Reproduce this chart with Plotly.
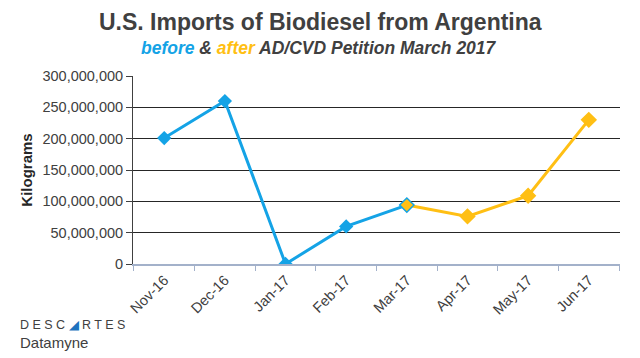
import plotly.graph_objects as go

months = ["Nov-16", "Dec-16", "Jan-17", "Feb-17", "Mar-17", "Apr-17", "May-17", "Jun-17"]
before_months = months[:5]
before_vals = [201000000, 260000000, 0, 60000000, 94000000]
after_months = months[4:]
after_vals = [94000000, 76000000, 109000000, 230000000]
ytick_vals = [0, 50000000, 100000000, 150000000, 200000000, 250000000, 300000000]
ytick_text = ["0", "50,000,000", "100,000,000", "150,000,000", "200,000,000", "250,000,000", "300,000,000"]

BLUE = "#14A3E6"
GOLD = "#FFBF14"

fig = go.Figure()
fig.add_trace(go.Scatter(x=before_months, y=before_vals, mode="lines+markers",
                         line=dict(color=BLUE, width=3),
                         marker=dict(symbol="diamond", size=11, color=BLUE),
                         showlegend=False))
fig.add_trace(go.Scatter(x=after_months, y=after_vals, mode="lines+markers",
                         line=dict(color=GOLD, width=3),
                         marker=dict(symbol="diamond", size=11, color=GOLD,
                                     line=dict(color=[BLUE, GOLD, GOLD, GOLD], width=1.5)),
                         showlegend=False))

L, R, T, B = 133, 20, 76, 94
W, H = 640, 358
plot_w = W - L - R
plot_h = H - T - B

def px(x):
    return (x - L) / plot_w

def py(y):
    return 1 + (T - y) / plot_h

fig.update_layout(
    width=W, height=H,
    margin=dict(l=L, r=R, t=T, b=B),
    paper_bgcolor="white", plot_bgcolor="white",
    font=dict(family="Liberation Sans, Arial, sans-serif", color="#404040", size=14),
    xaxis=dict(categoryorder="array", categoryarray=months, type="category",
               showline=True, linecolor="#A3B1CA", linewidth=2,
               ticks="outside", tickson="boundaries", ticklen=5, tickcolor="#A3B1CA",
               tickangle=-45, showgrid=False, tickfont=dict(size=14.5, color="#404040")),
    yaxis=dict(range=[0, 300000000], tickvals=ytick_vals, ticktext=ytick_text,
               showgrid=True, gridcolor="#262626", gridwidth=1,
               showline=True, linecolor="#404040", linewidth=1,
               ticks="outside", ticklen=6, tickcolor="#404040",
               zeroline=False, tickfont=dict(size=14.5, color="#404040"),
               title=dict(text="<b>Kilograms</b>", font=dict(size=15, color="#262626"), standoff=6)),
)

fig.add_annotation(text="<b>U.S. Imports of Biodiesel from Argentina</b>", x=px(320), y=py(22),
                   xref="paper", yref="paper", xanchor="center", yanchor="middle", showarrow=False,
                   font=dict(size=23, color="#404040"))
fig.add_annotation(text="<b><i><span style='color:%s'>before</span> &amp; <span style='color:%s'>after</span> AD/CVD Petition March 2017</i></b>" % (BLUE, GOLD),
                   x=px(319), y=py(48), xref="paper", yref="paper", xanchor="center", yanchor="middle",
                   showarrow=False, font=dict(size=17.5, color="#404040"))
fig.add_annotation(text="D E S C <span style='color:#1E73BE'>&#9698;</span> R T E S", x=px(18), y=py(325),
                   xref="paper", yref="paper", xanchor="left", yanchor="middle", showarrow=False,
                   font=dict(size=12.5, color="#404040"))
fig.add_annotation(text="Datamyne", x=px(18), y=py(342),
                   xref="paper", yref="paper", xanchor="left", yanchor="middle", showarrow=False,
                   font=dict(size=15, color="#404040"))

fig.write_html("out.html", config={"displayModeBar": False},
               post_script="document.body.style.margin='0';document.body.style.padding='0';")
